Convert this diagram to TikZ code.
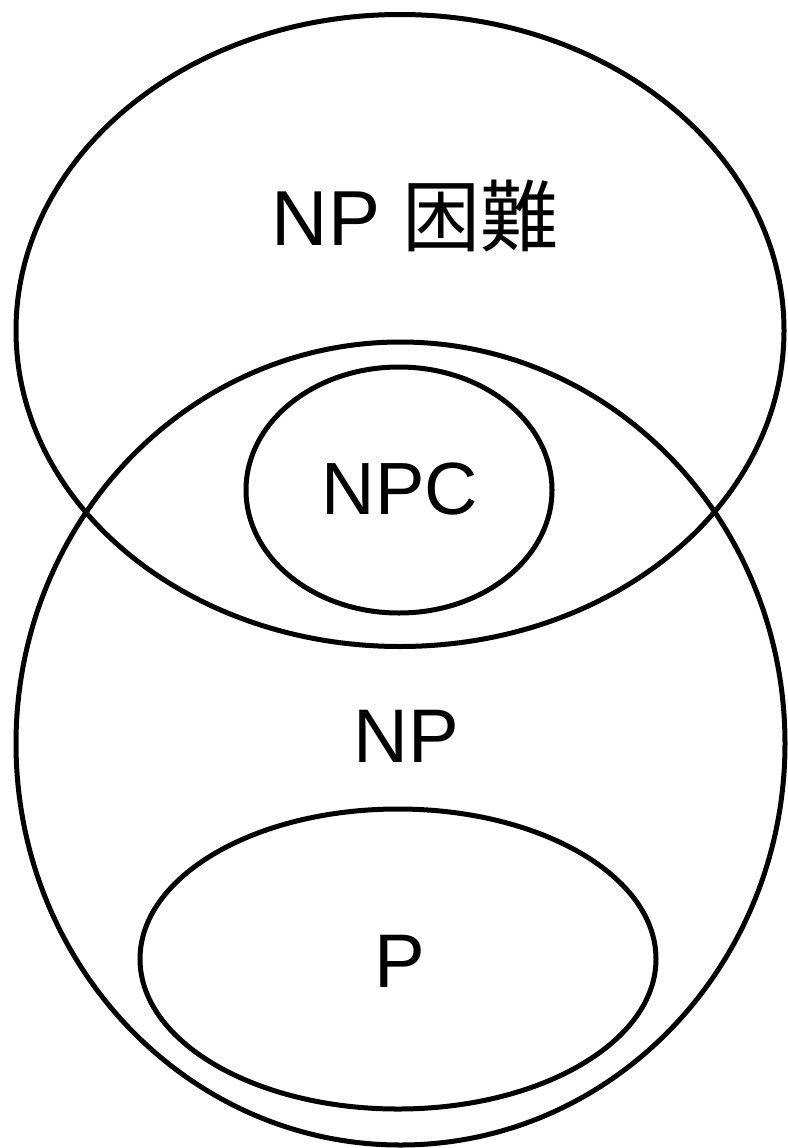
\documentclass[tikz,border=0pt]{standalone}
\usepackage{fontspec}
\setmainfont{Liberation Sans}
\newfontfamily\cjk{Noto Sans CJK JP}
\begin{document}
\begin{tikzpicture}[x=1pt,y=-1pt,
  setline/.style={draw=black,line width=5pt},
  lbl/.style={inner sep=0pt,anchor=center}]
\useasboundingbox (0,0) rectangle (787,1148);
\fill[white] (0,0) rectangle (787,1148);
\draw[setline] (400,330.5) ellipse [x radius=384,y radius=316];
\draw[setline] (400.5,743.5) ellipse [x radius=384.5,y radius=401.5];
\draw[setline] (399,490) ellipse [x radius=153,y radius=123];
\draw[setline] (398,959) ellipse [x radius=258,y radius=150];
\node[lbl] (nph) at (415,216) {\fontsize{78}{90}\selectfont NP {\cjk 困難}};
\node[lbl] (npc) at (400,489) {\fontsize{74}{90}\selectfont NPC};
\node[lbl] (np) at (406,736) {\fontsize{76}{90}\selectfont NP};
\node[lbl] (p) at (400,961) {\fontsize{76}{90}\selectfont P};
\end{tikzpicture}
\end{document}
